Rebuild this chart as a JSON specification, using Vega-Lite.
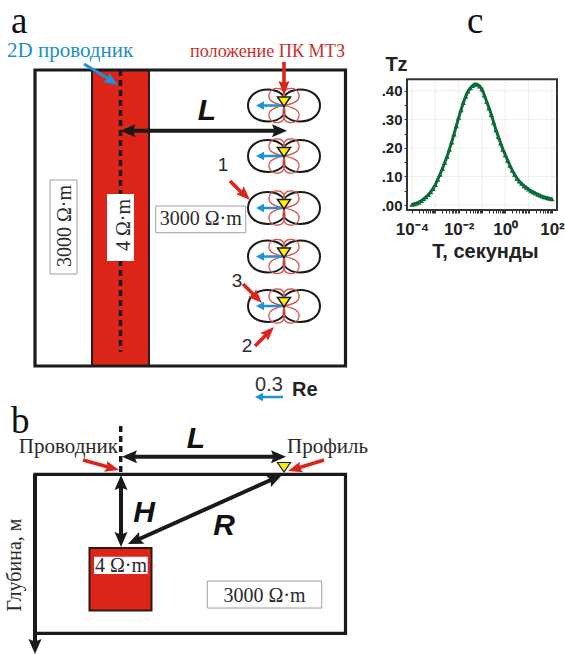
{"$schema":"https://vega.github.io/schema/vega-lite/v6.json","width":565,"height":654,"padding":0,"autosize":"none","background":"white","config":{"view":{"stroke":null}},
"datasets":{
"curve":[{"T":0.0001,"Tz":0.002},{"T":0.000126,"Tz":0.004},{"T":0.000158,"Tz":0.006},{"T":0.0002,"Tz":0.01},{"T":0.000251,"Tz":0.015},{"T":0.000316,"Tz":0.021},{"T":0.000398,"Tz":0.028},{"T":0.000501,"Tz":0.036},{"T":0.000631,"Tz":0.046},{"T":0.000794,"Tz":0.057},{"T":0.001,"Tz":0.071},{"T":0.00126,"Tz":0.089},{"T":0.00158,"Tz":0.107},{"T":0.002,"Tz":0.127},{"T":0.00251,"Tz":0.148},{"T":0.00316,"Tz":0.169},{"T":0.00398,"Tz":0.194},{"T":0.00501,"Tz":0.22},{"T":0.00631,"Tz":0.248},{"T":0.00794,"Tz":0.277},{"T":0.01,"Tz":0.306},{"T":0.0126,"Tz":0.333},{"T":0.0158,"Tz":0.358},{"T":0.02,"Tz":0.38},{"T":0.0251,"Tz":0.398},{"T":0.0316,"Tz":0.41},{"T":0.0398,"Tz":0.418},{"T":0.0501,"Tz":0.423},{"T":0.0631,"Tz":0.422},{"T":0.0794,"Tz":0.416},{"T":0.1,"Tz":0.405},{"T":0.126,"Tz":0.384},{"T":0.158,"Tz":0.362},{"T":0.2,"Tz":0.34},{"T":0.251,"Tz":0.316},{"T":0.316,"Tz":0.289},{"T":0.398,"Tz":0.263},{"T":0.501,"Tz":0.239},{"T":0.631,"Tz":0.216},{"T":0.794,"Tz":0.194},{"T":1,"Tz":0.175},{"T":1.26,"Tz":0.156},{"T":1.58,"Tz":0.138},{"T":2,"Tz":0.121},{"T":2.51,"Tz":0.107},{"T":3.16,"Tz":0.093},{"T":3.98,"Tz":0.083},{"T":5.01,"Tz":0.075},{"T":6.31,"Tz":0.067},{"T":7.94,"Tz":0.061},{"T":10,"Tz":0.055},{"T":12.6,"Tz":0.049},{"T":15.8,"Tz":0.045},{"T":20,"Tz":0.041},{"T":25.1,"Tz":0.037},{"T":31.6,"Tz":0.033},{"T":39.8,"Tz":0.03},{"T":50.1,"Tz":0.027},{"T":63.1,"Tz":0.025},{"T":79.4,"Tz":0.023},{"T":100,"Tz":0.021}],
"stations":[{"x":284,"y":105.5},{"x":284,"y":156},{"x":284,"y":208},{"x":284,"y":256.5},{"x":284,"y":306}],
"profile":[{"x":284,"y":471}],
"reArrow":[{"x":283,"y":397}],
"blackArrows":[{"x":125,"y":130.7,"x2":280,"y2":130.7},{"x":127,"y":456.7,"x2":279,"y2":456.7},{"x":121,"y":485,"x2":121,"y2":537},{"x":137,"y":540,"x2":273,"y2":479},{"x":35,"y":474,"x2":35,"y2":646}],
"blackHeads":[{"x":120.5,"y":130.7,"bearing":270},{"x":287,"y":130.7,"bearing":90},{"x":122,"y":456.7,"bearing":270},{"x":286,"y":456.7,"bearing":90},{"x":121,"y":475,"bearing":0},{"x":121,"y":547,"bearing":180},{"x":282,"y":475,"bearing":66},{"x":128,"y":544,"bearing":246},{"x":35,"y":654,"bearing":180}],
"redArrows":[{"x":284,"y":62,"x2":284,"y2":85},{"x":230,"y":181,"x2":243,"y2":194},{"x":243,"y":284,"x2":256,"y2":297},{"x":255,"y":346,"x2":268,"y2":333},{"x":83,"y":460,"x2":110,"y2":467.5},{"x":324,"y":460,"x2":298,"y2":468}],
"redHeads":[{"x":284,"y":95,"bearing":180},{"x":250,"y":200,"bearing":134},{"x":262,"y":303,"bearing":135},{"x":274,"y":327,"bearing":45},{"x":119,"y":470,"bearing":105},{"x":288,"y":471,"bearing":253}],
"dashes":[{"x":120.5,"y":70,"x2":120.5,"y2":352},{"x":120.7,"y":426,"x2":120.7,"y2":474}],
"redFill":[{"x":92,"y":70,"x2":149,"y2":366},{"x":89.5,"y":548,"x2":151.5,"y2":610.5}],
"frames":[{"x":35,"y":70,"x2":345.5,"y2":366},{"x":35,"y":474.3,"x2":345.5,"y2":633.3}],
"boxes":[{"x":50,"y":180,"x2":77,"y2":274},{"x":155.7,"y":206,"x2":245.7,"y2":232.7},{"x":207.3,"y":581,"x2":321.7,"y2":608}],
"whiteBoxes":[{"x":107,"y":194,"x2":134,"y2":261},{"x":94,"y":556.7,"x2":147.7,"y2":574}]
},
"layer":[
{"encoding":{"x":{"field":"x","type":"quantitative","axis":null,"scale":{"domain":[0,565],"range":[0,565],"nice":false,"zero":false}},"y":{"field":"y","type":"quantitative","axis":null,"scale":{"domain":[0,654],"range":[0,654],"nice":false,"zero":false}}},
"layer":[
{"data":{"name":"redFill"},"mark":{"type":"rect","fill":"#dd2418","stroke":"#2a1a18","strokeWidth":2},"encoding":{"x2":{"field":"x2"},"y2":{"field":"y2"}}},
{"data":{"name":"frames"},"mark":{"type":"rect","fillOpacity":0,"stroke":"#1a1a1a","strokeWidth":3.2},"encoding":{"x2":{"field":"x2"},"y2":{"field":"y2"}}},
{"data":{"name":"dashes"},"mark":{"type":"rule","color":"#1a1a1a","strokeWidth":3.5,"strokeDash":[6,4]},"encoding":{"x2":{"field":"x2"},"y2":{"field":"y2"}}},
{"data":{"name":"boxes"},"mark":{"type":"rect","fill":"white","stroke":"#a0a0a0","strokeWidth":1},"encoding":{"x2":{"field":"x2"},"y2":{"field":"y2"}}},
{"data":{"name":"whiteBoxes"},"mark":{"type":"rect","fill":"white"},"encoding":{"x2":{"field":"x2"},"y2":{"field":"y2"}}},
{"data":{"name":"stations"},"mark":{"type":"point","shape":"M0,-9 C4,-14 10,-16 16,-16 C28,-16 36,-9 36,0 C36,9 28,16 16,16 C10,16 4,14 0,9 C-4,14 -10,16 -16,16 C-28,16 -36,9 -36,0 C-36,-9 -28,-16 -16,-16 C-10,-16 -4,-14 0,-9Z M0,-1 L0,9","size":4,"filled":false,"stroke":"#1a1a1a","strokeWidth":2,"opacity":1}},
{"data":{"name":"stations"},"mark":{"type":"point","shape":"M0,0 C-2,-8 -1,-17 6,-17 C13,-18 17,-11 14,-6 C11,-2 5,-1 0,0Z M0,0 C2,-8 1,-17 -6,-17 C-13,-18 -17,-11 -14,-6 C-11,-2 -5,-1 0,0Z M0,0 C-2,8 -1,17 6,17 C13,18 17,11 14,6 C11,2 5,1 0,0Z M0,0 C2,8 1,17 -6,17 C-13,18 -17,11 -14,6 C-11,2 -5,1 0,0Z","size":4,"filled":false,"stroke":"#d4574e","strokeWidth":1.3,"opacity":1}},
{"data":{"name":"stations"},"mark":{"type":"point","shape":"M0,-1.3 L-20,-1.3 L-20,-4.2 L-28,0 L-20,4.2 L-20,1.3 L0,1.3Z","size":4,"filled":true,"color":"#1c93d6","opacity":1}},
{"data":{"name":"stations"},"mark":{"type":"point","shape":"M-6.5,-8.5 L6.5,-8.5 L0,1Z","size":4,"filled":true,"fill":"#ffee00","stroke":"#1a1a1a","strokeWidth":1.5,"opacity":1}},
{"data":{"name":"profile"},"mark":{"type":"point","shape":"M-6.5,-8.5 L6.5,-8.5 L0,1Z","size":4,"filled":true,"fill":"#ffee00","stroke":"#1a1a1a","strokeWidth":1.2,"opacity":1}},
{"data":{"name":"reArrow"},"mark":{"type":"point","shape":"M0,-1.3 L-20,-1.3 L-20,-4.2 L-28,0 L-20,4.2 L-20,1.3 L0,1.3Z","size":4,"filled":true,"color":"#1c93d6","opacity":1}},
{"data":{"name":"blackArrows"},"mark":{"type":"rule","color":"#1a1a1a","strokeWidth":4},"encoding":{"x2":{"field":"x2"},"y2":{"field":"y2"}}},
{"data":{"name":"blackHeads"},"mark":{"type":"point","shape":"M0,0 L-6.5,15 L0,12.5 L6.5,15Z","size":4,"filled":true,"color":"#1a1a1a","opacity":1},"encoding":{"angle":{"field":"bearing","type":"quantitative","scale":null}}},
{"data":{"name":"redArrows"},"mark":{"type":"rule","color":"#d9261c","strokeWidth":3.6},"encoding":{"x2":{"field":"x2"},"y2":{"field":"y2"}}},
{"data":{"name":"redHeads"},"mark":{"type":"point","shape":"M0,0 L-5.5,14 L0,12 L5.5,14Z","size":4,"filled":true,"color":"#d9261c","opacity":1},"encoding":{"angle":{"field":"bearing","type":"quantitative","scale":null}}},
{"data":{"values":[{"x":84,"y":64,"x2":108,"y2":78.5}]},"mark":{"type":"rule","color":"#1c93d6","strokeWidth":3.2},"encoding":{"x2":{"field":"x2"},"y2":{"field":"y2"}}},
{"data":{"values":[{"x":118,"y":85,"bearing":122}]},"mark":{"type":"point","shape":"M0,0 L-5.5,14 L0,12 L5.5,14Z","size":4,"filled":true,"color":"#1c93d6","opacity":1},"encoding":{"angle":{"field":"bearing","type":"quantitative","scale":null}}},
{"data":{"values":[{"x":11,"y":33,"label":"a"},{"x":11,"y":433,"label":"b"},{"x":467,"y":33,"label":"c"}]},"mark":{"type":"text","font":"Liberation Serif","fontSize":37,"align":"left","baseline":"alphabetic","color":"#111"},"encoding":{"text":{"field":"label"}}},
{"data":{"values":[{"x":7,"y":57,"label":"2D проводник"}]},"mark":{"type":"text","font":"Liberation Serif","fontSize":21,"align":"left","baseline":"alphabetic","color":"#1c8fc4"},"encoding":{"text":{"field":"label"}}},
{"data":{"values":[{"x":190,"y":57,"label":"положение ПК МТЗ"}]},"mark":{"type":"text","font":"Liberation Serif","fontSize":18.2,"align":"left","baseline":"alphabetic","color":"#c8302a"},"encoding":{"text":{"field":"label"}}},
{"data":{"values":[{"x":200.7,"y":225,"label":"3000 Ω·m"},{"x":264.5,"y":602,"label":"3000 Ω·m"},{"x":121,"y":572,"label":"4 Ω·m"}]},"mark":{"type":"text","font":"Liberation Serif","fontSize":20,"align":"center","baseline":"alphabetic","color":"#2a2a2a"},"encoding":{"text":{"field":"label"}}},
{"data":{"values":[{"x":71,"y":226,"label":"3000 Ω·m"},{"x":130,"y":225,"label":"4 Ω·m"},{"x":21,"y":565,"label":"Глубина, м"}]},"mark":{"type":"text","font":"Liberation Serif","fontSize":20,"angle":270,"align":"center","baseline":"alphabetic","color":"#2a2a2a"},"encoding":{"text":{"field":"label"}}},
{"data":{"values":[{"x":118,"y":453,"label":"Проводник"}]},"mark":{"type":"text","font":"Liberation Serif","fontSize":21,"align":"right","baseline":"alphabetic","color":"#2a2a2a"},"encoding":{"text":{"field":"label"}}},
{"data":{"values":[{"x":287,"y":453,"label":"Профиль"}]},"mark":{"type":"text","font":"Liberation Serif","fontSize":21,"align":"left","baseline":"alphabetic","color":"#2a2a2a"},"encoding":{"text":{"field":"label"}}},
{"data":{"values":[{"x":207,"y":120,"label":"L"},{"x":196,"y":448,"label":"L"},{"x":144,"y":522,"label":"H"},{"x":224,"y":535,"label":"R"}]},"mark":{"type":"text","font":"Liberation Sans","fontSize":30,"fontWeight":"bold","fontStyle":"italic","align":"center","baseline":"alphabetic","color":"#111"},"encoding":{"text":{"field":"label"}}},
{"data":{"values":[{"x":223,"y":171,"label":"1"},{"x":237,"y":287,"label":"3"},{"x":247,"y":352,"label":"2"}]},"mark":{"type":"text","font":"Liberation Sans","fontSize":19,"align":"center","baseline":"alphabetic","color":"#2a2a2a"},"encoding":{"text":{"field":"label"}}},
{"data":{"values":[{"x":269,"y":391,"label":"0.3"}]},"mark":{"type":"text","font":"Liberation Sans","fontSize":20,"align":"center","baseline":"alphabetic","color":"#333"},"encoding":{"text":{"field":"label"}}},
{"data":{"values":[{"x":292,"y":396,"label":"Re"}]},"mark":{"type":"text","font":"Liberation Sans","fontSize":20,"fontWeight":"bold","align":"left","baseline":"alphabetic","color":"#222"},"encoding":{"text":{"field":"label"}}}
]},
{"encoding":{"x":{"field":"T","type":"quantitative","title":"T, секунды","scale":{"type":"log","domain":[0.000061,164],"range":[407,557],"nice":false},"axis":{"offset":-444,"orient":"bottom","domain":false,"grid":false,"values":[0.0001,0.0002,0.0003,0.0004,0.0005,0.0006,0.0007,0.0008,0.0009,0.001,0.002,0.003,0.004,0.005,0.006,0.007,0.008,0.009,0.01,0.02,0.03,0.04,0.05,0.06,0.07,0.08,0.09,0.1,0.2,0.3,0.4,0.5,0.6,0.7,0.8,0.9,1,2,3,4,5,6,7,8,9,10,20,30,40,50,60,70,80,90,100],"labelExpr":"datum.value==0.0001?'10⁻⁴':datum.value==0.01?'10⁻²':datum.value==1?'10⁰':datum.value==100?'10²':''","labelOverlap":false,"labelFont":"Liberation Sans","labelFontWeight":"bold","labelFontSize":17,"labelColor":"#222","labelPadding":8,"labelFlush":false,"tickColor":"#333","tickSize":3,"titleFont":"Liberation Sans","titleFontWeight":"bold","titleFontSize":20,"titleColor":"#222","titleX":485,"titleY":47,"titleAnchor":"middle","titleBaseline":"alphabetic"}},
"y":{"field":"Tz","type":"quantitative","title":"Tz","scale":{"domain":[-0.0175,0.44],"range":[210,79.3],"nice":false,"zero":false},"axis":{"offset":-407,"orient":"left","domain":false,"grid":false,"values":[0,0.05,0.1,0.15,0.2,0.25,0.3,0.35,0.4],"labelExpr":"datum.value==0?'.00':datum.value==0.1?'.10':datum.value==0.2?'.20':datum.value==0.3?'.30':datum.value==0.4?'.40':''","labelOverlap":false,"labelFont":"Liberation Sans","labelFontWeight":"bold","labelFontSize":15,"labelColor":"#222","labelPadding":2,"labelFlush":false,"tickColor":"#333","tickSize":3,"titleFont":"Liberation Sans","titleFontWeight":"bold","titleFontSize":20,"titleColor":"#222","titleAngle":0,"titleX":-11,"titleY":70,"titleBaseline":"alphabetic","titleAlign":"center"}}},
"layer":[
{"data":{"values":[{"T":0.0001,"T2":0.0001,"Tz":-0.0175,"Tz2":0.44},{"T":0.001,"T2":0.001,"Tz":-0.0175,"Tz2":0.44},{"T":0.01,"T2":0.01,"Tz":-0.0175,"Tz2":0.44},{"T":0.1,"T2":0.1,"Tz":-0.0175,"Tz2":0.44},{"T":1,"T2":1,"Tz":-0.0175,"Tz2":0.44},{"T":10,"T2":10,"Tz":-0.0175,"Tz2":0.44},{"T":100,"T2":100,"Tz":-0.0175,"Tz2":0.44},{"T":0.000061,"T2":164,"Tz":0,"Tz2":0},{"T":0.000061,"T2":164,"Tz":0.1,"Tz2":0.1},{"T":0.000061,"T2":164,"Tz":0.2,"Tz2":0.2},{"T":0.000061,"T2":164,"Tz":0.3,"Tz2":0.3},{"T":0.000061,"T2":164,"Tz":0.4,"Tz2":0.4}]},"mark":{"type":"rule","color":"#eeeeee","strokeWidth":1},"encoding":{"x2":{"field":"T2"},"y2":{"field":"Tz2"}}},
{"data":{"values":[{"T":0.000061,"T2":164,"Tz":-0.0175,"Tz2":0.44}]},"mark":{"type":"rect","fillOpacity":0,"stroke":"#333","strokeWidth":2},"encoding":{"x2":{"field":"T2"},"y2":{"field":"Tz2"}}},
{"data":{"name":"curve"},"mark":{"type":"line","color":"#0c6b38","strokeWidth":3}},
{"data":{"name":"curve"},"mark":{"type":"point","shape":"triangle-up","filled":true,"size":28,"color":"#0c6b38","opacity":1}}
]}
],
"resolve":{"scale":{"x":"independent","y":"independent"},"axis":{"x":"independent","y":"independent"}}
}
